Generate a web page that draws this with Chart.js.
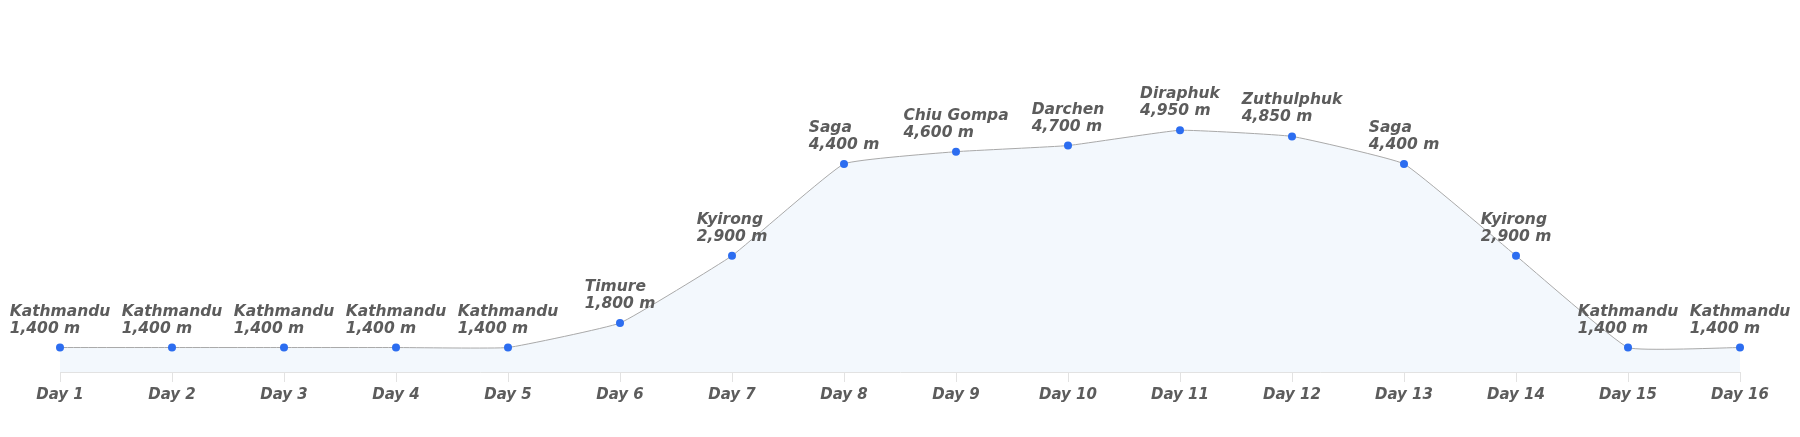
<!DOCTYPE html>
<html>
<head>
<meta charset="utf-8">
<script src="https://cdn.jsdelivr.net/npm/chart.js@4/dist/chart.umd.min.js"></script>
<style>
  html, body { margin: 0; padding: 0; background: #fff; }
  canvas { display: block; }
</style>
</head>
<body>
<canvas id="pic_alt" width="1800" height="437"></canvas>
<script>
var days = ['Day 1', 'Day 2', 'Day 3', 'Day 4', 'Day 5', 'Day 6', 'Day 7', 'Day 8',
            'Day 9', 'Day 10', 'Day 11', 'Day 12', 'Day 13', 'Day 14', 'Day 15', 'Day 16'];
var places = ['Kathmandu', 'Kathmandu', 'Kathmandu', 'Kathmandu', 'Kathmandu', 'Timure', 'Kyirong', 'Saga',
              'Chiu Gompa', 'Darchen', 'Diraphuk', 'Zuthulphuk', 'Saga', 'Kyirong', 'Kathmandu', 'Kathmandu'];
var altitude = [1400, 1400, 1400, 1400, 1400, 1800, 2900, 4400, 4600, 4700, 4950, 4850, 4400, 2900, 1400, 1400];

var labelFont = 'italic bold 15.5px "DejaVu Sans", sans-serif';

var pointLabels = {
    id: 'pointLabels',
    afterDatasetsDraw: function (chart) {
        var ctx = chart.ctx;
        var meta = chart.getDatasetMeta(0);
        ctx.save();
        ctx.font = labelFont;
        ctx.fillStyle = '#5c5c5c';
        ctx.textAlign = 'left';
        ctx.textBaseline = 'alphabetic';
        meta.data.forEach(function (pt, i) {
            var l1 = places[i];
            var l2 = altitude[i].toLocaleString('en-US') + ' m';
            var w = Math.max(ctx.measureText(l1).width, ctx.measureText(l2).width);
            var left = pt.x - w / 2;
            ctx.fillText(l1, left, pt.y - 32);
            ctx.fillText(l2, left, pt.y - 15);
        });
        ctx.restore();
    }
};

var ctx = document.getElementById('pic_alt').getContext('2d');
var chart = new Chart(ctx, {
    type: 'line',
    data: {
        labels: days,
        datasets: [{
            label: 'altitude',
            data: altitude,
            tension: 0.1,
            borderColor: '#a9a9a9',
            borderWidth: 1,
            backgroundColor: '#f3f8fd',
            fill: 'start',
            pointRadius: 4,
            pointBackgroundColor: '#2c6df0',
            pointBorderColor: '#2c6df0',
            pointBorderWidth: 0
        }]
    },
    options: {
        responsive: false,
        animation: false,
        layout: { padding: { left: 60, right: 60, top: 66, bottom: 29 } },
        plugins: {
            legend: { display: false },
            tooltip: { enabled: false }
        },
        scales: {
            x: {
                offset: false,
                grid: { drawOnChartArea: false, drawTicks: true, tickLength: 10, color: '#e2e2e2' },
                border: { color: '#e2e2e2' },
                ticks: {
                    padding: 4,
                    color: '#5c5c5c',
                    font: { family: '"DejaVu Sans", sans-serif', size: 15, style: 'italic', weight: 'bold' },
                    maxRotation: 0,
                    autoSkip: false
                }
            },
            y: {
                display: false,
                min: 1000,
                max: 6000
            }
        }
    },
    plugins: [pointLabels]
});
</script>
</body>
</html>
